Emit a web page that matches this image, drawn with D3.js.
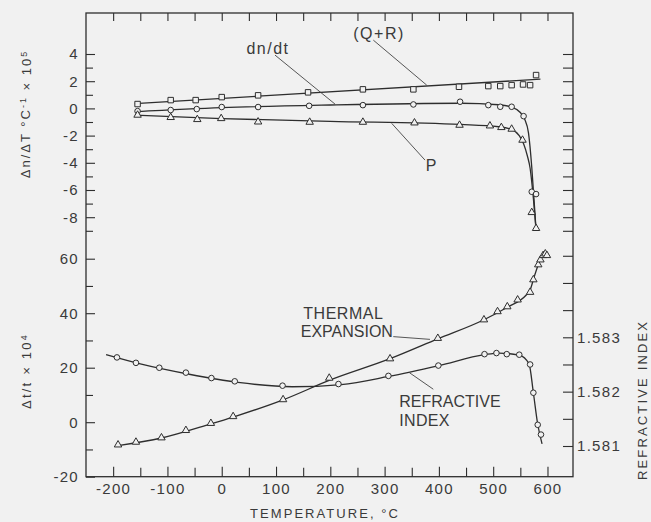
<!DOCTYPE html>
<html>
<head>
<meta charset="UTF-8">
<script src="https://d3js.org/d3.v7.min.js"></script>
<style>
  body { margin: 0; background: #f1f1f1; }
  text { font-family: "Liberation Sans", Arial, sans-serif; fill: #3a3a3a; }
</style>
</head>
<body>
<svg id="canvas"></svg>
<script>
width = 651;
height = 522;
ink = "#2e2e2e";
bg = "#f1f1f1";

// upper panel, dn/dT (x 1e5) vs temperature
qrPoints = [[-155,0.32],[-94,0.61],[-48,0.61],[0,0.83],[67,0.96],[159,1.18],[260,1.40],[353,1.40],[437,1.59],[491,1.64],[513,1.64],[534,1.71],[555,1.76],[568,1.71],[579,2.45]];
qrCurve = [[-160,0.35],[587,2.15]];
dndtPoints = [[-155,-0.2],[-94,-0.12],[-46,-0.05],[0,0.1],[67,0.1],[161,0.19],[260,0.24],[353,0.29],[439,0.49],[491,0.24],[513,0.12],[534,0.12],[556,-0.57],[571,-6.13],[579,-6.3]];
dndtCurve = [[-160,-0.25],[0,0.05],[200,0.25],[440,0.38],[510,0.27],[534,0.1],[550,-0.3],[558,-0.8],[565,-1.8],[571,-4.3],[575,-6.6],[579,-8.95]];
pPoints = [[-155,-0.49],[-94,-0.66],[-45,-0.81],[-1,-0.74],[67,-0.99],[162,-1.01],[260,-1.01],[355,-1.06],[438,-1.23],[494,-1.28],[515,-1.40],[534,-1.52],[554,-2.33],[571,-7.65],[579,-8.82]];
pCurve = [[-160,-0.5],[0,-0.75],[200,-0.95],[440,-1.18],[510,-1.35],[534,-1.55],[548,-2.0],[556,-2.6],[563,-3.5],[568,-4.4],[574,-6.6],[579,-8.95]];

// lower panel, thermal expansion (x 1e4) and refractive index
tePoints = [[-191,-8.3],[-158,-7.3],[-111,-5.7],[-66,-3.0],[-20,-0.4],[21,2.1],[113,8.3],[198,16.2],[310,23.3],[398,30.8],[483,37.6],[508,40.6],[526,42.4],[545,44.9],[568,47.7],[574,52.3],[583,57.8],[587,59.6],[592,61.2],[596,61.8],[599,61.2]];
teCurve = [[-191,-8.6],[-111,-5.8],[-20,-0.6],[21,1.9],[113,8.2],[200,15.5],[310,23.3],[398,30.6],[483,37.6],[526,42.2],[560,46.5],[568,48.5],[575,53],[583,57.8],[592,61.5],[598,62.5]];
riPoints = [[-193,1.58263],[-158,1.58253],[-115,1.58244],[-66,1.58235],[-19,1.58225],[24,1.58219],[112,1.58211],[215,1.58214],[307,1.58229],[399,1.58248],[484,1.58269],[506,1.58271],[525,1.58269],[548,1.58268],[568,1.58250],[574,1.58198],[582,1.58139],[588,1.58121]];
riCurve = [[-213,1.58268],[-150,1.58251],[-60,1.58232],[30,1.58217],[130,1.58209],[220,1.58213],[307,1.58228],[400,1.58248],[484,1.58268],[510,1.58271],[548,1.58267],[566,1.58251],[574,1.58198],[582,1.58140],[590,1.58104]];

// ticks
xLabelTicks = [-200,-100,0,100,200,300,400,500,600];
xMinorTicks = [-150,-50,50,150,250,350,450,550];
topLabelTicks = [4,2,0,-2,-4,-6,-8];
topMinorTicks = [3,1,-1,-3,-5,-7,-9];
botLabelTicks = [60,40,20,0,-20];
botMinorTicks = [50,30,10,-10];
riLabelTicks = [1.581,1.582,1.583];
riMinorTicks = [1.5815,1.5825,1.5835,1.584,1.5845];

canvas = d3.select("#canvas").attr("width", width).attr("height", height);
canvas.append("rect").attr("width", width).attr("height", height).attr("fill", bg);

x = d3.scaleLinear().domain([-250, 647]).range([86, 573]);
yTop = d3.scaleLinear().domain([-10, 7]).range([244.4, 13.2]);
yBot = d3.scaleLinear().domain([-20, 60]).range([476.7, 258.7]);
yRI = d3.scaleLinear().domain([1.581, 1.583]).range([446, 337.3]);

// frame
canvas.append("rect")
    .attr("x", x.range()[0]).attr("y", 13)
    .attr("width", x.range()[1] - x.range()[0]).attr("height", 476.7 - 13)
    .attr("fill", "none").attr("stroke", ink).attr("stroke-width", 1.3);

function styleAxis(g) {
    g.attr("font-size", null).attr("font-family", null).attr("color", ink);
    g.select(".domain").remove();
    g.selectAll("line").attr("stroke-width", 1.1);
    g.selectAll("text").style("font-size", "15px").style("letter-spacing", "1.3px").attr("fill", "#3a3a3a");
}
fmt = (d) => String(d);

// left axis
canvas.append("g").attr("transform", "translate(86,0)")
    .call(d3.axisLeft(yTop).tickValues(topLabelTicks).tickSizeInner(-9).tickSizeOuter(0).tickPadding(7).tickFormat(fmt))
    .call(styleAxis);
canvas.append("g").attr("transform", "translate(86,0)")
    .call(d3.axisLeft(yTop).tickValues(topMinorTicks).tickSizeInner(-7).tickSizeOuter(0).tickFormat(""))
    .call(styleAxis);
canvas.append("g").attr("transform", "translate(86,0)")
    .call(d3.axisLeft(yBot).tickValues(botLabelTicks).tickSizeInner(-9).tickSizeOuter(0).tickPadding(7).tickFormat(fmt))
    .call(styleAxis);
canvas.append("g").attr("transform", "translate(86,0)")
    .call(d3.axisLeft(yBot).tickValues(botMinorTicks).tickSizeInner(-7).tickSizeOuter(0).tickFormat(""))
    .call(styleAxis);

// right axis
canvas.append("g").attr("transform", "translate(573,0)")
    .call(d3.axisRight(yTop).tickValues(topLabelTicks.concat(topMinorTicks)).tickSizeInner(-10).tickSizeOuter(0).tickFormat(""))
    .call(styleAxis);
canvas.append("g").attr("transform", "translate(573,0)")
    .call(d3.axisRight(yRI).tickValues(riLabelTicks).tickSizeInner(-10).tickSizeOuter(0).tickPadding(4).tickFormat(d3.format(".3f")))
    .call(styleAxis);
canvas.append("g").attr("transform", "translate(573,0)")
    .call(d3.axisRight(yRI).tickValues(riMinorTicks).tickSizeInner(-10).tickSizeOuter(0).tickFormat(""))
    .call(styleAxis);

// bottom + top axes
canvas.append("g").attr("transform", "translate(0,476.7)")
    .call(d3.axisBottom(x).tickValues(xLabelTicks).tickSizeInner(-10).tickSizeOuter(0).tickPadding(7).tickFormat(fmt))
    .call(styleAxis);
canvas.append("g").attr("transform", "translate(0,476.7)")
    .call(d3.axisBottom(x).tickValues(xMinorTicks).tickSizeInner(-9).tickSizeOuter(0).tickFormat(""))
    .call(styleAxis);
canvas.append("g").attr("transform", "translate(0,13)")
    .call(d3.axisTop(x).tickValues(xLabelTicks.concat(xMinorTicks)).tickSizeInner(-8).tickSizeOuter(0).tickFormat(""))
    .call(styleAxis);

// curves
function drawCurve(data, yScale) {
    canvas.append("path")
        .datum(data)
        .attr("d", d3.line().x(d => x(d[0])).y(d => yScale(d[1])).curve(d3.curveMonotoneX))
        .attr("fill", "none").attr("stroke", ink).attr("stroke-width", 1.3);
}
drawCurve(qrCurve, yTop);
drawCurve(dndtCurve, yTop);
drawCurve(pCurve, yTop);
drawCurve(teCurve, yBot);
drawCurve(riCurve, yRI);

// markers
function drawMarkers(data, yScale, shape) {
    var g = canvas.append("g");
    if (shape === "circle") {
        g.selectAll("circle").data(data).enter().append("circle")
            .attr("cx", d => x(d[0])).attr("cy", d => yScale(d[1])).attr("r", 2.8);
    } else {
        var sym = d3.symbol().type(shape === "square" ? d3.symbolSquare : d3.symbolTriangle).size(shape === "square" ? 30 : 24);
        g.selectAll("path").data(data).enter().append("path")
            .attr("transform", d => "translate(" + x(d[0]) + "," + yScale(d[1]) + ")")
            .attr("d", sym);
    }
    g.attr("fill", bg).attr("stroke", ink).attr("stroke-width", 1);
}
drawMarkers(qrPoints, yTop, "square");
drawMarkers(dndtPoints, yTop, "circle");
drawMarkers(pPoints, yTop, "triangle");
drawMarkers(tePoints, yBot, "triangle");
drawMarkers(riPoints, yRI, "circle");

// annotations (leader lines in data units)
function leader(a, b, yScale) {
    canvas.append("line")
        .attr("x1", x(a[0])).attr("y1", yScale(a[1]))
        .attr("x2", x(b[0])).attr("y2", yScale(b[1]))
        .attr("stroke", "#444").attr("stroke-width", 0.9);
}
function note(txt, pos, yScale, anchor, spacing) {
    canvas.append("text")
        .attr("x", x(pos[0])).attr("y", yScale(pos[1]))
        .attr("dy", "0.35em")
        .attr("text-anchor", anchor)
        .style("font-size", "16px")
        .style("letter-spacing", spacing + "px")
        .text(txt);
}
leader([279.2, 5.02], [377.6, 1.71], yTop);
leader([98.1, 3.92], [208.6, 0.32], yTop);
leader([374.4, -3.80], [313.1, -1.10], yTop);
leader([316, 31.4], [383.6, 30.4], yBot);
leader([389.7, 12.1], [345.5, 18.2], yBot);

note("(Q+R)", [242.3, 5.54], yTop, "start", 1.5);
note("dn/dt", [85.2, 4.43], yTop, "middle", 1.5);
note("P", [385.5, -4.17], yTop, "middle", 0);
note("THERMAL", [150.3, 40], yBot, "start", 0.5);
note("EXPANSION", [145.5, 33.2], yBot, "start", 0);
note("REFRACTIVE", [327.1, 7.8], yBot, "start", 0);
note("INDEX", [327.1, 0.55], yBot, "start", 0.3);

// axis titles
canvas.append("text")
    .attr("x", 324).attr("y", 513).attr("dy", "0.35em")
    .attr("text-anchor", "middle")
    .attr("textLength", 148)
    .style("font-size", "13px")
    .text("TEMPERATURE, °C");

canvas.append("text")
    .attr("transform", "translate(642,401) rotate(-90)")
    .attr("text-anchor", "middle")
    .attr("dy", "0.35em")
    .attr("textLength", 158)
    .style("font-size", "13px")
    .text("REFRACTIVE INDEX");

var l1 = canvas.append("text")
    .attr("transform", "translate(25,114) rotate(-90)")
    .attr("text-anchor", "middle")
    .attr("dy", "0.35em")
    .style("font-size", "13px")
    .style("letter-spacing", "2px");
l1.append("tspan").text("Δn/ΔT °C");
l1.append("tspan").attr("dy", "-0.45em").style("font-size", "9px").text("-1");
l1.append("tspan").attr("dy", "0.45em").text(" × 10");
l1.append("tspan").attr("dy", "-0.45em").style("font-size", "9px").text("5");

var l2 = canvas.append("text")
    .attr("transform", "translate(26.5,371) rotate(-90)")
    .attr("text-anchor", "middle")
    .attr("dy", "0.35em")
    .style("font-size", "13px")
    .style("letter-spacing", "2.2px");
l2.append("tspan").text("Δt/t × 10");
l2.append("tspan").attr("dy", "-0.45em").style("font-size", "9px").text("4");
</script>
</body>
</html>
